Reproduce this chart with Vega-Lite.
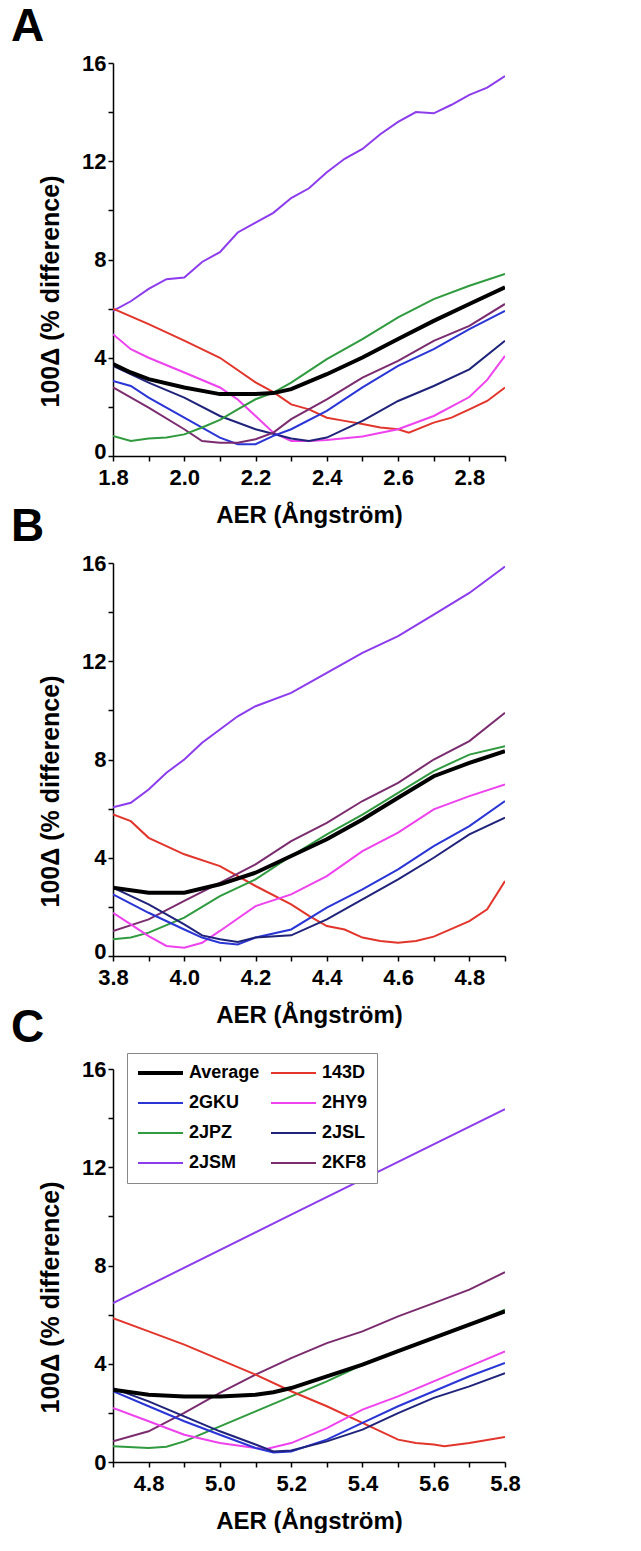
{
  "$schema": "https://vega.github.io/schema/vega-lite/v6.json",
  "background": "white",
  "padding": {"left": 11, "top": 4, "right": 0, "bottom": 0},
  "spacing": -23,
  "datasets": {
    "A": [
      {"s":"2JSM","x":1.8,"y":5.91},{"s":"2JSM","x":1.85,"y":6.3},{"s":"2JSM","x":1.9,"y":6.8},{"s":"2JSM","x":1.95,"y":7.2},{"s":"2JSM","x":2.0,"y":7.27},{"s":"2JSM","x":2.05,"y":7.9},{"s":"2JSM","x":2.1,"y":8.3},{"s":"2JSM","x":2.15,"y":9.1},{"s":"2JSM","x":2.2,"y":9.5},{"s":"2JSM","x":2.25,"y":9.9},{"s":"2JSM","x":2.3,"y":10.5},{"s":"2JSM","x":2.35,"y":10.9},{"s":"2JSM","x":2.4,"y":11.55},{"s":"2JSM","x":2.45,"y":12.1},{"s":"2JSM","x":2.5,"y":12.5},{"s":"2JSM","x":2.55,"y":13.1},{"s":"2JSM","x":2.6,"y":13.6},{"s":"2JSM","x":2.65,"y":14.0},{"s":"2JSM","x":2.7,"y":13.95},{"s":"2JSM","x":2.75,"y":14.3},{"s":"2JSM","x":2.8,"y":14.7},{"s":"2JSM","x":2.85,"y":15.0},{"s":"2JSM","x":2.9,"y":15.47},
      {"s":"143D","x":1.8,"y":6.0},{"s":"143D","x":1.9,"y":5.37},{"s":"143D","x":2.0,"y":4.7},{"s":"143D","x":2.1,"y":4.0},{"s":"143D","x":2.2,"y":3.0},{"s":"143D","x":2.25,"y":2.6},{"s":"143D","x":2.3,"y":2.1},{"s":"143D","x":2.35,"y":1.9},{"s":"143D","x":2.4,"y":1.56},{"s":"143D","x":2.45,"y":1.43},{"s":"143D","x":2.5,"y":1.3},{"s":"143D","x":2.55,"y":1.16},{"s":"143D","x":2.6,"y":1.09},{"s":"143D","x":2.63,"y":0.95},{"s":"143D","x":2.7,"y":1.36},{"s":"143D","x":2.75,"y":1.56},{"s":"143D","x":2.8,"y":1.9},{"s":"143D","x":2.85,"y":2.24},{"s":"143D","x":2.9,"y":2.79},
      {"s":"2HY9","x":1.8,"y":4.96},{"s":"2HY9","x":1.85,"y":4.35},{"s":"2HY9","x":1.9,"y":4.0},{"s":"2HY9","x":2.0,"y":3.4},{"s":"2HY9","x":2.1,"y":2.79},{"s":"2HY9","x":2.15,"y":2.3},{"s":"2HY9","x":2.2,"y":1.63},{"s":"2HY9","x":2.25,"y":0.95},{"s":"2HY9","x":2.3,"y":0.61},{"s":"2HY9","x":2.35,"y":0.61},{"s":"2HY9","x":2.4,"y":0.65},{"s":"2HY9","x":2.5,"y":0.79},{"s":"2HY9","x":2.6,"y":1.09},{"s":"2HY9","x":2.7,"y":1.63},{"s":"2HY9","x":2.8,"y":2.4},{"s":"2HY9","x":2.85,"y":3.1},{"s":"2HY9","x":2.9,"y":4.08},
      {"s":"2JSL","x":1.8,"y":3.67},{"s":"2JSL","x":1.9,"y":2.99},{"s":"2JSL","x":2.0,"y":2.38},{"s":"2JSL","x":2.1,"y":1.63},{"s":"2JSL","x":2.2,"y":1.09},{"s":"2JSL","x":2.3,"y":0.71},{"s":"2JSL","x":2.35,"y":0.61},{"s":"2JSL","x":2.4,"y":0.75},{"s":"2JSL","x":2.5,"y":1.43},{"s":"2JSL","x":2.6,"y":2.24},{"s":"2JSL","x":2.7,"y":2.85},{"s":"2JSL","x":2.8,"y":3.53},{"s":"2JSL","x":2.9,"y":4.69},
      {"s":"2GKU","x":1.8,"y":3.06},{"s":"2GKU","x":1.85,"y":2.85},{"s":"2GKU","x":1.9,"y":2.38},{"s":"2GKU","x":2.0,"y":1.56},{"s":"2GKU","x":2.1,"y":0.75},{"s":"2GKU","x":2.15,"y":0.48},{"s":"2GKU","x":2.2,"y":0.48},{"s":"2GKU","x":2.25,"y":0.82},{"s":"2GKU","x":2.3,"y":1.09},{"s":"2GKU","x":2.4,"y":1.84},{"s":"2GKU","x":2.5,"y":2.79},{"s":"2GKU","x":2.6,"y":3.67},{"s":"2GKU","x":2.7,"y":4.35},{"s":"2GKU","x":2.8,"y":5.17},{"s":"2GKU","x":2.9,"y":5.91},
      {"s":"2KF8","x":1.8,"y":2.79},{"s":"2KF8","x":1.9,"y":1.97},{"s":"2KF8","x":2.0,"y":1.09},{"s":"2KF8","x":2.05,"y":0.61},{"s":"2KF8","x":2.1,"y":0.54},{"s":"2KF8","x":2.15,"y":0.54},{"s":"2KF8","x":2.2,"y":0.68},{"s":"2KF8","x":2.25,"y":0.95},{"s":"2KF8","x":2.3,"y":1.5},{"s":"2KF8","x":2.4,"y":2.31},{"s":"2KF8","x":2.5,"y":3.19},{"s":"2KF8","x":2.6,"y":3.87},{"s":"2KF8","x":2.7,"y":4.69},{"s":"2KF8","x":2.8,"y":5.3},{"s":"2KF8","x":2.9,"y":6.19},
      {"s":"2JPZ","x":1.8,"y":0.82},{"s":"2JPZ","x":1.85,"y":0.61},{"s":"2JPZ","x":1.9,"y":0.71},{"s":"2JPZ","x":1.95,"y":0.75},{"s":"2JPZ","x":2.0,"y":0.88},{"s":"2JPZ","x":2.05,"y":1.16},{"s":"2JPZ","x":2.1,"y":1.47},{"s":"2JPZ","x":2.15,"y":1.9},{"s":"2JPZ","x":2.2,"y":2.31},{"s":"2JPZ","x":2.25,"y":2.58},{"s":"2JPZ","x":2.3,"y":2.99},{"s":"2JPZ","x":2.4,"y":3.94},{"s":"2JPZ","x":2.5,"y":4.76},{"s":"2JPZ","x":2.6,"y":5.64},{"s":"2JPZ","x":2.7,"y":6.39},{"s":"2JPZ","x":2.8,"y":6.93},{"s":"2JPZ","x":2.9,"y":7.41},
      {"s":"Average","x":1.8,"y":3.74},{"s":"Average","x":1.85,"y":3.4},{"s":"Average","x":1.9,"y":3.13},{"s":"Average","x":2.0,"y":2.79},{"s":"Average","x":2.1,"y":2.52},{"s":"Average","x":2.2,"y":2.52},{"s":"Average","x":2.25,"y":2.56},{"s":"Average","x":2.3,"y":2.72},{"s":"Average","x":2.4,"y":3.33},{"s":"Average","x":2.5,"y":4.01},{"s":"Average","x":2.6,"y":4.76},{"s":"Average","x":2.7,"y":5.5},{"s":"Average","x":2.8,"y":6.19},{"s":"Average","x":2.9,"y":6.87}
    ],
    "B": [
      {"s":"2JSM","x":3.8,"y":6.05},{"s":"2JSM","x":3.85,"y":6.24},{"s":"2JSM","x":3.9,"y":6.78},{"s":"2JSM","x":3.95,"y":7.46},{"s":"2JSM","x":4.0,"y":8.0},{"s":"2JSM","x":4.05,"y":8.68},{"s":"2JSM","x":4.1,"y":9.22},{"s":"2JSM","x":4.15,"y":9.76},{"s":"2JSM","x":4.2,"y":10.17},{"s":"2JSM","x":4.3,"y":10.71},{"s":"2JSM","x":4.4,"y":11.53},{"s":"2JSM","x":4.5,"y":12.34},{"s":"2JSM","x":4.6,"y":13.02},{"s":"2JSM","x":4.7,"y":13.9},{"s":"2JSM","x":4.8,"y":14.78},{"s":"2JSM","x":4.9,"y":15.86},
      {"s":"143D","x":3.8,"y":5.76},{"s":"143D","x":3.85,"y":5.49},{"s":"143D","x":3.9,"y":4.81},{"s":"143D","x":4.0,"y":4.14},{"s":"143D","x":4.1,"y":3.66},{"s":"143D","x":4.2,"y":2.85},{"s":"143D","x":4.3,"y":2.1},{"s":"143D","x":4.35,"y":1.63},{"s":"143D","x":4.4,"y":1.22},{"s":"143D","x":4.45,"y":1.08},{"s":"143D","x":4.5,"y":0.75},{"s":"143D","x":4.55,"y":0.61},{"s":"143D","x":4.6,"y":0.54},{"s":"143D","x":4.65,"y":0.61},{"s":"143D","x":4.7,"y":0.79},{"s":"143D","x":4.8,"y":1.42},{"s":"143D","x":4.85,"y":1.9},{"s":"143D","x":4.9,"y":3.05},
      {"s":"2KF8","x":3.8,"y":1.02},{"s":"2KF8","x":3.9,"y":1.49},{"s":"2KF8","x":4.0,"y":2.24},{"s":"2KF8","x":4.1,"y":2.98},{"s":"2KF8","x":4.2,"y":3.73},{"s":"2KF8","x":4.3,"y":4.68},{"s":"2KF8","x":4.4,"y":5.42},{"s":"2KF8","x":4.5,"y":6.31},{"s":"2KF8","x":4.6,"y":7.05},{"s":"2KF8","x":4.7,"y":8.0},{"s":"2KF8","x":4.8,"y":8.75},{"s":"2KF8","x":4.9,"y":9.9},
      {"s":"2JPZ","x":3.8,"y":0.68},{"s":"2JPZ","x":3.85,"y":0.75},{"s":"2JPZ","x":3.9,"y":0.95},{"s":"2JPZ","x":4.0,"y":1.56},{"s":"2JPZ","x":4.1,"y":2.44},{"s":"2JPZ","x":4.2,"y":3.12},{"s":"2JPZ","x":4.3,"y":4.07},{"s":"2JPZ","x":4.4,"y":4.95},{"s":"2JPZ","x":4.5,"y":5.76},{"s":"2JPZ","x":4.6,"y":6.64},{"s":"2JPZ","x":4.7,"y":7.53},{"s":"2JPZ","x":4.8,"y":8.2},{"s":"2JPZ","x":4.9,"y":8.54},
      {"s":"2HY9","x":3.8,"y":1.76},{"s":"2HY9","x":3.85,"y":1.29},{"s":"2HY9","x":3.9,"y":0.81},{"s":"2HY9","x":3.95,"y":0.41},{"s":"2HY9","x":4.0,"y":0.34},{"s":"2HY9","x":4.05,"y":0.54},{"s":"2HY9","x":4.1,"y":1.02},{"s":"2HY9","x":4.2,"y":2.03},{"s":"2HY9","x":4.3,"y":2.51},{"s":"2HY9","x":4.4,"y":3.25},{"s":"2HY9","x":4.5,"y":4.27},{"s":"2HY9","x":4.6,"y":5.02},{"s":"2HY9","x":4.7,"y":5.97},{"s":"2HY9","x":4.8,"y":6.51},{"s":"2HY9","x":4.9,"y":6.98},
      {"s":"2GKU","x":3.8,"y":2.51},{"s":"2GKU","x":3.9,"y":1.76},{"s":"2GKU","x":4.0,"y":1.08},{"s":"2GKU","x":4.05,"y":0.75},{"s":"2GKU","x":4.1,"y":0.54},{"s":"2GKU","x":4.15,"y":0.47},{"s":"2GKU","x":4.2,"y":0.75},{"s":"2GKU","x":4.3,"y":1.08},{"s":"2GKU","x":4.4,"y":1.97},{"s":"2GKU","x":4.5,"y":2.71},{"s":"2GKU","x":4.6,"y":3.53},{"s":"2GKU","x":4.7,"y":4.47},{"s":"2GKU","x":4.8,"y":5.29},{"s":"2GKU","x":4.9,"y":6.31},
      {"s":"2JSL","x":3.8,"y":2.78},{"s":"2JSL","x":3.9,"y":2.1},{"s":"2JSL","x":4.0,"y":1.29},{"s":"2JSL","x":4.05,"y":0.84},{"s":"2JSL","x":4.1,"y":0.68},{"s":"2JSL","x":4.15,"y":0.57},{"s":"2JSL","x":4.2,"y":0.75},{"s":"2JSL","x":4.3,"y":0.84},{"s":"2JSL","x":4.4,"y":1.49},{"s":"2JSL","x":4.5,"y":2.31},{"s":"2JSL","x":4.6,"y":3.12},{"s":"2JSL","x":4.7,"y":4.0},{"s":"2JSL","x":4.8,"y":4.95},{"s":"2JSL","x":4.9,"y":5.63},
      {"s":"Average","x":3.8,"y":2.78},{"s":"Average","x":3.9,"y":2.58},{"s":"Average","x":4.0,"y":2.58},{"s":"Average","x":4.1,"y":2.92},{"s":"Average","x":4.2,"y":3.39},{"s":"Average","x":4.3,"y":4.07},{"s":"Average","x":4.4,"y":4.75},{"s":"Average","x":4.5,"y":5.56},{"s":"Average","x":4.6,"y":6.44},{"s":"Average","x":4.7,"y":7.32},{"s":"Average","x":4.8,"y":7.86},{"s":"Average","x":4.9,"y":8.34}
    ],
    "C": [
      {"s":"2JSM","x":4.7,"y":6.47},{"s":"2JSM","x":5.2,"y":10.07},{"s":"2JSM","x":5.8,"y":14.37},
      {"s":"2KF8","x":4.7,"y":0.84},{"s":"2KF8","x":4.8,"y":1.25},{"s":"2KF8","x":4.9,"y":2.0},{"s":"2KF8","x":5.0,"y":2.81},{"s":"2KF8","x":5.1,"y":3.56},{"s":"2KF8","x":5.2,"y":4.23},{"s":"2KF8","x":5.3,"y":4.84},{"s":"2KF8","x":5.4,"y":5.32},{"s":"2KF8","x":5.5,"y":5.93},{"s":"2KF8","x":5.6,"y":6.47},{"s":"2KF8","x":5.7,"y":7.02},{"s":"2KF8","x":5.8,"y":7.73},
      {"s":"2JPZ","x":4.7,"y":0.64},{"s":"2JPZ","x":4.8,"y":0.57},{"s":"2JPZ","x":4.85,"y":0.62},{"s":"2JPZ","x":4.9,"y":0.84},{"s":"2JPZ","x":5.0,"y":1.45},{"s":"2JPZ","x":5.1,"y":2.06},{"s":"2JPZ","x":5.2,"y":2.67},{"s":"2JPZ","x":5.3,"y":3.28},{"s":"2JPZ","x":5.4,"y":3.96},{"s":"2JPZ","x":5.5,"y":4.51},{"s":"2JPZ","x":5.6,"y":5.05},{"s":"2JPZ","x":5.7,"y":5.59},{"s":"2JPZ","x":5.8,"y":6.2},
      {"s":"143D","x":4.7,"y":5.86},{"s":"143D","x":4.8,"y":5.32},{"s":"143D","x":4.9,"y":4.78},{"s":"143D","x":5.0,"y":4.17},{"s":"143D","x":5.1,"y":3.56},{"s":"143D","x":5.2,"y":2.88},{"s":"143D","x":5.3,"y":2.27},{"s":"143D","x":5.4,"y":1.59},{"s":"143D","x":5.5,"y":0.91},{"s":"143D","x":5.55,"y":0.77},{"s":"143D","x":5.6,"y":0.71},{"s":"143D","x":5.63,"y":0.64},{"s":"143D","x":5.7,"y":0.77},{"s":"143D","x":5.8,"y":1.02},
      {"s":"2HY9","x":4.7,"y":2.2},{"s":"2HY9","x":4.8,"y":1.66},{"s":"2HY9","x":4.9,"y":1.11},{"s":"2HY9","x":5.0,"y":0.77},{"s":"2HY9","x":5.1,"y":0.57},{"s":"2HY9","x":5.13,"y":0.53},{"s":"2HY9","x":5.2,"y":0.77},{"s":"2HY9","x":5.3,"y":1.38},{"s":"2HY9","x":5.4,"y":2.13},{"s":"2HY9","x":5.5,"y":2.67},{"s":"2HY9","x":5.6,"y":3.28},{"s":"2HY9","x":5.7,"y":3.89},{"s":"2HY9","x":5.8,"y":4.5},
      {"s":"2GKU","x":4.7,"y":2.88},{"s":"2GKU","x":4.8,"y":2.27},{"s":"2GKU","x":4.9,"y":1.66},{"s":"2GKU","x":5.0,"y":1.11},{"s":"2GKU","x":5.1,"y":0.57},{"s":"2GKU","x":5.15,"y":0.39},{"s":"2GKU","x":5.2,"y":0.43},{"s":"2GKU","x":5.3,"y":0.91},{"s":"2GKU","x":5.4,"y":1.59},{"s":"2GKU","x":5.5,"y":2.27},{"s":"2GKU","x":5.6,"y":2.88},{"s":"2GKU","x":5.7,"y":3.49},{"s":"2GKU","x":5.8,"y":4.03},
      {"s":"2JSL","x":4.7,"y":3.01},{"s":"2JSL","x":4.8,"y":2.47},{"s":"2JSL","x":4.9,"y":1.86},{"s":"2JSL","x":5.0,"y":1.25},{"s":"2JSL","x":5.1,"y":0.71},{"s":"2JSL","x":5.15,"y":0.43},{"s":"2JSL","x":5.2,"y":0.47},{"s":"2JSL","x":5.3,"y":0.84},{"s":"2JSL","x":5.4,"y":1.32},{"s":"2JSL","x":5.5,"y":1.99},{"s":"2JSL","x":5.6,"y":2.61},{"s":"2JSL","x":5.7,"y":3.08},{"s":"2JSL","x":5.8,"y":3.62},
      {"s":"Average","x":4.7,"y":2.94},{"s":"Average","x":4.8,"y":2.74},{"s":"Average","x":4.9,"y":2.67},{"s":"Average","x":5.0,"y":2.67},{"s":"Average","x":5.1,"y":2.74},{"s":"Average","x":5.15,"y":2.84},{"s":"Average","x":5.2,"y":3.01},{"s":"Average","x":5.3,"y":3.49},{"s":"Average","x":5.4,"y":3.96},{"s":"Average","x":5.5,"y":4.51},{"s":"Average","x":5.6,"y":5.05},{"s":"Average","x":5.7,"y":5.59},{"s":"Average","x":5.8,"y":6.13}
    ]
  },
  "resolve": {"legend": {"color": "independent", "strokeWidth": "independent"}},
  "vconcat": [
    {
      "title": {"text": "A"},
      "width": 392, "height": 393,
      "data": {"name": "A"},
      "mark": {"type": "line", "clip": true},
      "encoding": {
        "x": {"field": "x", "type": "quantitative", "scale": {"domain": [1.8, 2.9], "nice": false, "zero": false},
              "axis": {"title": "AER (Ångström)", "values": [1.8,1.9,2.0,2.1,2.2,2.3,2.4,2.5,2.6,2.7,2.8,2.9], "labelExpr": "round(datum.value*10) % 2 === 0 ? format(datum.value, '.1f') : ''"}},
        "y": {"field": "y", "type": "quantitative", "scale": {"domain": [0, 16], "nice": false},
              "axis": {"title": "100Δ (% difference)", "values": [0,2,4,6,8,10,12,14,16], "labelExpr": "datum.value % 4 === 0 ? datum.label : ''",
                       "labelOffset": {"condition": {"test": "datum.value === 0", "value": -5}, "value": 0}}},
        "color": {"field": "s", "type": "nominal", "legend": null,
                  "scale": {"domain": ["Average","143D","2GKU","2HY9","2JPZ","2JSL","2JSM","2KF8"], "range": ["#000000","#e2352b","#2a35d6","#ee42ee","#2f9a3e","#1f2379","#8c3cec","#7b2c6f"]}},
        "strokeWidth": {"field": "s", "type": "nominal", "legend": null,
                  "scale": {"type": "ordinal", "domain": ["Average","143D","2GKU","2HY9","2JPZ","2JSL","2JSM","2KF8"], "range": [4,2,2,2,2,2,2,2]}}
      }
    },
    {
      "title": {"text": "B"},
      "width": 392, "height": 393,
      "data": {"name": "B"},
      "mark": {"type": "line", "clip": true},
      "encoding": {
        "x": {"field": "x", "type": "quantitative", "scale": {"domain": [3.8, 4.9], "nice": false, "zero": false},
              "axis": {"title": "AER (Ångström)", "values": [3.8,3.9,4.0,4.1,4.2,4.3,4.4,4.5,4.6,4.7,4.8,4.9], "labelExpr": "round(datum.value*10) % 2 === 0 ? format(datum.value, '.1f') : ''"}},
        "y": {"field": "y", "type": "quantitative", "scale": {"domain": [0, 16], "nice": false},
              "axis": {"title": "100Δ (% difference)", "values": [0,2,4,6,8,10,12,14,16], "labelExpr": "datum.value % 4 === 0 ? datum.label : ''",
                       "labelOffset": {"condition": {"test": "datum.value === 0", "value": -5}, "value": 0}}},
        "color": {"field": "s", "type": "nominal", "legend": null,
                  "scale": {"domain": ["Average","143D","2GKU","2HY9","2JPZ","2JSL","2JSM","2KF8"], "range": ["#000000","#e2352b","#2a35d6","#ee42ee","#2f9a3e","#1f2379","#8c3cec","#7b2c6f"]}},
        "strokeWidth": {"field": "s", "type": "nominal", "legend": null,
                  "scale": {"type": "ordinal", "domain": ["Average","143D","2GKU","2HY9","2JPZ","2JSL","2JSM","2KF8"], "range": [4,2,2,2,2,2,2,2]}}
      }
    },
    {
      "title": {"text": "C"},
      "width": 392, "height": 393,
      "data": {"name": "C"},
      "mark": {"type": "line", "clip": true},
      "encoding": {
        "x": {"field": "x", "type": "quantitative", "scale": {"domain": [4.7, 5.8], "nice": false, "zero": false},
              "axis": {"title": "AER (Ångström)", "values": [4.7,4.8,4.9,5.0,5.1,5.2,5.3,5.4,5.5,5.6,5.7,5.8], "labelExpr": "round(datum.value*10) % 2 === 0 ? format(datum.value, '.1f') : ''"}},
        "y": {"field": "y", "type": "quantitative", "scale": {"domain": [0, 16], "nice": false},
              "axis": {"title": "100Δ (% difference)", "values": [0,2,4,6,8,10,12,14,16], "labelExpr": "datum.value % 4 === 0 ? datum.label : ''"}},
        "color": {"field": "s", "type": "nominal",
                  "legend": {"title": null, "orient": "none", "legendX": 14, "legendY": -16, "columns": 2, "direction": "horizontal"},
                  "scale": {"domain": ["Average","143D","2GKU","2HY9","2JPZ","2JSL","2JSM","2KF8"], "range": ["#000000","#e2352b","#2a35d6","#ee42ee","#2f9a3e","#1f2379","#8c3cec","#7b2c6f"]}},
        "strokeWidth": {"field": "s", "type": "nominal",
                  "legend": {"title": null, "orient": "none", "legendX": 14, "legendY": -16, "columns": 2, "direction": "horizontal"},
                  "scale": {"type": "ordinal", "domain": ["Average","143D","2GKU","2HY9","2JPZ","2JSL","2JSM","2KF8"], "range": [4,2,2,2,2,2,2,2]}}
      }
    }
  ],
  "config": {
    "view": {"stroke": null},
    "font": "Liberation Sans",
    "axis": {"grid": false, "domainColor": "#000", "domainWidth": 1.5, "tickColor": "#000", "tickWidth": 1.5, "tickSize": 5,
             "labelColor": "#000", "labelFont": "Liberation Sans", "labelFontSize": 22, "labelFontWeight": "bold",
             "titleColor": "#000", "titleFont": "Liberation Sans", "titleFontWeight": "bold",
             "labelOverlap": false, "labelFlush": false},
    "axisX": {"labelPadding": 6, "titlePadding": 15, "titleFontSize": 24},
    "axisY": {"labelPadding": 2, "titlePadding": 18, "titleY": 228, "titleFontSize": 25},
    "title": {"font": "Liberation Sans", "fontSize": 46, "fontWeight": "bold", "color": "#000", "anchor": "start", "frame": "group", "dx": -102, "offset": 1},
    "legend": {"symbolType": "stroke", "symbolSize": 2025, "clipHeight": 22, "labelFont": "Liberation Sans", "labelFontSize": 18, "labelFontWeight": "bold",
               "labelColor": "#000", "labelOffset": 4, "columnPadding": 9, "rowPadding": 8, "padding": 9,
               "strokeColor": "#888", "fillColor": "#fff"}
  }
}
